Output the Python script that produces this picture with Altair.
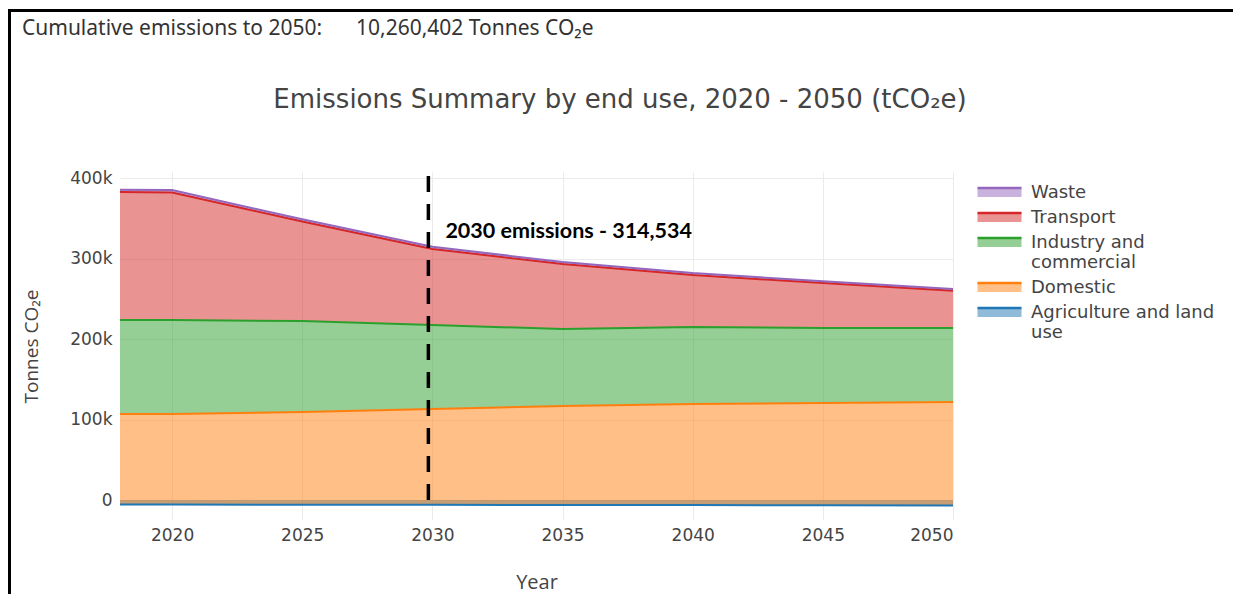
import altair as alt
import pandas as pd

# ---------------- data ----------------
years = [2018, 2020, 2025, 2030, 2035, 2040, 2045, 2050]
agriculture = [-5500, -5600, -5800, -6000, -6100, -6300, -6500, -6700]
domestic = [112300, 112400, 115100, 119000, 122900, 125600, 127000, 128400]
industry = [116800, 116800, 113100, 104400, 95600, 95600, 93200, 92000]
transport = [159000, 158400, 123600, 94534, 80800, 64600, 55900, 46300]
waste = [3000, 3000, 2800, 2600, 2500, 2400, 2300, 2200]

categories = ["Agriculture and land use", "Domestic", "Industry and commercial",
              "Transport", "Waste"]
series = [agriculture, domestic, industry, transport, waste]
legend_order = ["Waste", "Transport", "Industry and commercial", "Domestic",
                "Agriculture and land use"]
line_colors = ["#9467bd", "#d62728", "#2ca02c", "#ff7f0e", "#1f77b4"]
fill_colors = ["rgba(148,103,189,0.5)", "rgba(214,39,40,0.5)", "rgba(44,160,44,0.5)",
               "rgba(255,127,14,0.5)", "rgba(31,119,180,0.5)"]

y_ticks = [0, 100000, 200000, 300000, 400000]
x_ticks = [2020, 2025, 2030, 2035, 2040, 2045, 2050]

marker_year = 2030
marker_total = 314534
marker_label = "2030 emissions - 314,534"
cumulative_label = "Cumulative emissions to 2050:"
cumulative_value = "10,260,402 Tonnes CO\u2082e"
title_text = "Emissions Summary by end use, 2020 - 2050 (tCO\u2082e)"

rows = []
for rank, (cat, vals) in enumerate(zip(categories, series)):
    for yr, v in zip(years, vals):
        rows.append({"year": yr, "category": cat, "value": v, "rank": rank})
df = pd.DataFrame(rows)

label_expr = ("datum.label == 'Industry and commercial' ? ['Industry and', 'commercial'] : "
              "datum.label == 'Agriculture and land use' ? ['Agriculture and land', 'use'] : datum.label")

W, H = 833, 348
PAD_L, PAD_T = 112, 164

x_enc = alt.X("year:Q", scale=alt.Scale(domain=[2018, 2050], nice=False, zero=False),
              axis=alt.Axis(values=x_ticks, format="d", title="Year", grid=True,
                            gridColor="#ebebeb", domain=False, ticks=False,
                            labelPadding=7, labelFont="DejaVu Sans", labelFontSize=17,
                            labelColor="#444", titleFont="Open Sans", titleFontSize=20,
                            titleFontWeight="normal", titleColor="#444",
                            titleX=W / 2, titleY=62, titleBaseline="middle"))
y_enc = alt.Y("top:Q", scale=alt.Scale(domain=[-24800, 407500], nice=False, zero=False),
              axis=alt.Axis(values=y_ticks,
                            labelExpr="datum.value == 0 ? '0' : format(datum.value / 1000, 'd') + 'k'",
                            title="Tonnes CO\u2082e", grid=True,
                            gridColor="#ebebeb", domain=False, ticks=False,
                            labelPadding=8, labelFont="DejaVu Sans", labelFontSize=17,
                            labelColor="#444", titleFont="Open Sans", titleFontSize=19,
                            titleFontWeight="normal", titleColor="#444",
                            titleX=-89, titleY=H / 2, titleAngle=-90,
                            titleBaseline="middle", titleAlign="center"))

SYM_PATH = "M-2,-0.40H2V0.40H-2Z"
legend = alt.Legend(title=None, orient="none", legendX=867, legendY=8,
                    symbolType=SYM_PATH, symbolSize=484, symbolStrokeWidth=2.5,
                    symbolDash=[44, 400],
                    labelFont="DejaVu Sans", labelFontSize=18, labelOffset=19,
                    labelColor="#444", rowPadding=3, padding=0,
                    labelExpr=label_expr, labelLimit=300)

fill_scale = alt.Scale(domain=legend_order, range=fill_colors)
stroke_scale = alt.Scale(domain=legend_order, range=line_colors)

base = alt.Chart(df).transform_window(
    top="sum(value)", groupby=["year"], sort=[alt.SortField("rank")], frame=[None, 0]
).transform_calculate(base="datum.top - datum.value")

areas = base.mark_area(strokeWidth=0, interpolate="linear").encode(
    x=x_enc,
    y=y_enc,
    y2="base:Q",
    fill=alt.Fill("category:N", scale=fill_scale, legend=legend),
    stroke=alt.Stroke("category:N", scale=stroke_scale, legend=legend),
    order=alt.Order("rank:Q"),
)

lines = base.mark_line(strokeWidth=2, interpolate="linear").encode(
    x=x_enc,
    y=y_enc,
    stroke=alt.Stroke("category:N", scale=stroke_scale, legend=legend),
    detail="category:N",
)

one = pd.DataFrame({"k": [0]})

marker = alt.Chart(one).mark_rule(color="black", strokeWidth=3.5, strokeDash=[16, 12],
                                  xOffset=-4).encode(
    x=alt.datum(marker_year), y=alt.datum(0), y2=alt.datum(404000))

marker_text = alt.Chart(one).mark_text(
    text=marker_label, align="left", baseline="middle", dx=13, dy=-15,
    font="Lato", fontWeight="bold", fontSize=21.5, color="black").encode(
    x=alt.datum(marker_year), y=alt.datum(marker_total))

title = alt.Chart(one).mark_text(
    text=title_text, align="center", baseline="middle", font="DejaVu Sans",
    fontSize=26, color="#444").encode(x=alt.value(620 - 120), y=alt.value(100 - 172))

cum1 = alt.Chart(one).mark_text(
    text=cumulative_label, align="left", baseline="middle", font="Noto Sans",
    fontSize=21, color="#333").encode(x=alt.value(22 - 120), y=alt.value(29 - 172))
cum2 = alt.Chart(one).mark_text(
    text=cumulative_value, align="left", baseline="middle", font="Noto Sans",
    fontSize=21, color="#333").encode(x=alt.value(356 - 120), y=alt.value(29 - 172))

border_left = alt.Chart(one).mark_rule(color="black", strokeWidth=3).encode(
    x=alt.value(-110.5), y=alt.value(-163), y2=alt.value(440))
border_top = alt.Chart(one).mark_rule(color="black", strokeWidth=3).encode(
    x=alt.value(-112), x2=alt.value(1200), y=alt.value(-161.5))

chart = alt.layer(areas, lines, marker, marker_text, title, cum1, cum2,
                  border_left, border_top).properties(
    width=W, height=H,
    autosize=alt.AutoSizeParams(type="none"),
    padding={"left": PAD_L, "top": PAD_T, "right": 280, "bottom": 74},
    background="white",
).configure_view(stroke=None)

chart.save("out.html", embed_options={"renderer": "svg", "actions": False})
